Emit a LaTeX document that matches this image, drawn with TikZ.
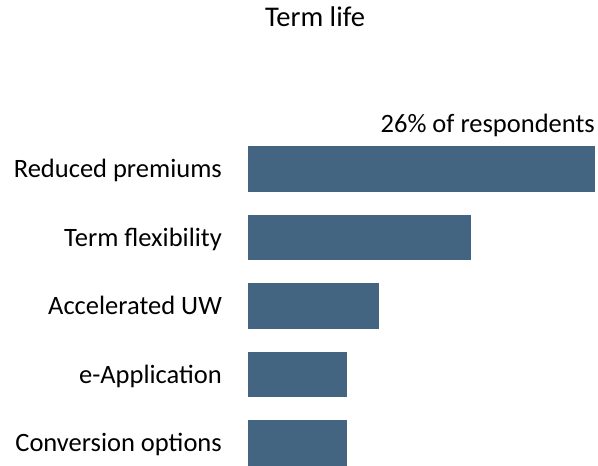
\documentclass[tikz,border=0pt]{standalone}
\usepackage{fontspec}
\setmainfont{Carlito}
\usetikzlibrary{positioning}

\definecolor{barblue}{RGB}{67,101,130}

\tikzset{
  bar/.style={fill=barblue, draw=none, inner sep=0pt, minimum height=45.5pt, anchor=north west},
  lbl/.style={anchor=base east, inner sep=0pt, font=\fontsize{26.5}{30}\selectfont}
}

\begin{document}
\begin{tikzpicture}[x=1pt,y=1pt]

\useasboundingbox (0,0) rectangle (598,-466);

\node at (315,-26) [anchor=base, inner sep=0pt, font=\fontsize{28.5}{32}\selectfont] (title) {Term life};

% bars
\node [bar, minimum width=347pt] (b1) at (248,-146) {};
\node [bar, minimum width=223pt] (b2) at (248,-214.5) {};
\node [bar, minimum width=131pt] (b3) at (248,-283) {};
\node [bar, minimum width=99pt] (b4) at (248,-351.5) {};
\node [bar, minimum width=99pt] (b5) at (248,-420) {};

\node [anchor=base east, inner sep=0pt, font=\fontsize{26.5}{30}\selectfont] (unit) at (595,-132) {26\% of respondents};

% labels
\node [lbl] (l1) at (222,-177.5) {Reduced premiums};
\node [lbl] (l2) at (222,-246) {Term flexibility};
\node [lbl] (l3) at (222,-314.5) {Accelerated UW};
\node [lbl] (l4) at (222,-383) {e-Application};
\node [lbl] (l5) at (222,-451.5) {Conversion options};

\end{tikzpicture}
\end{document}
